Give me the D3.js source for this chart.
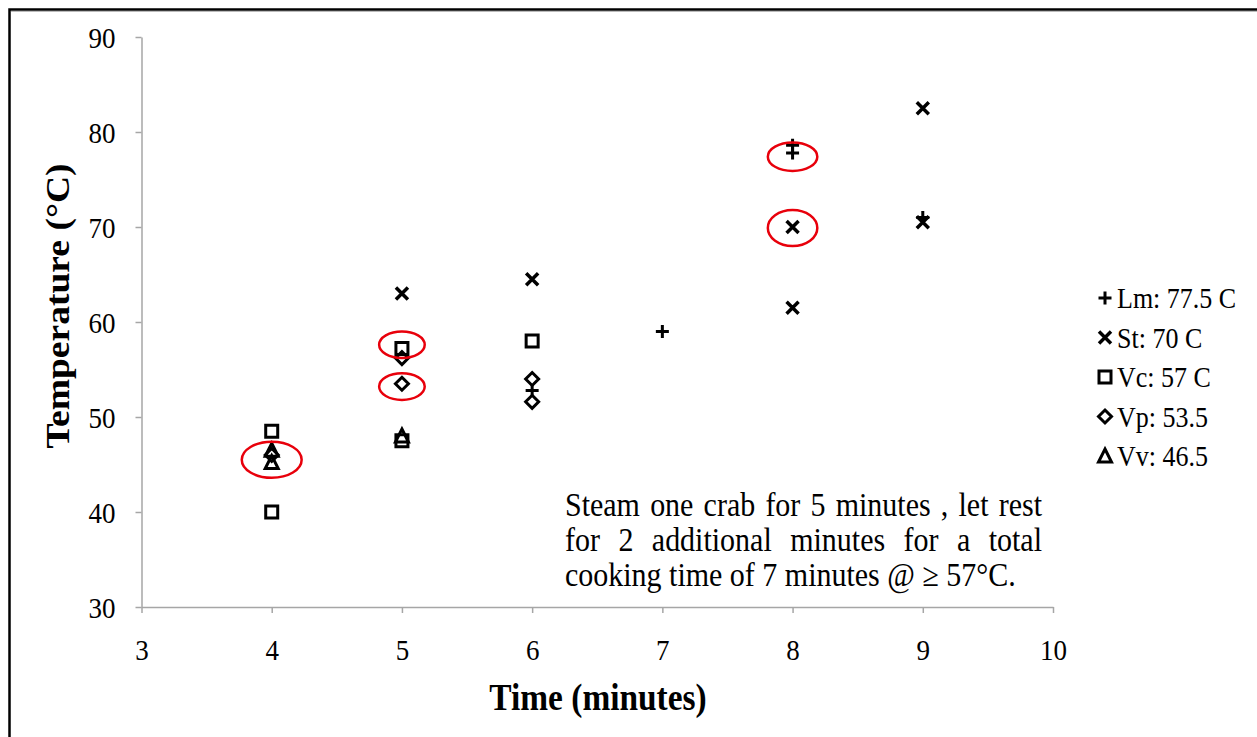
<!DOCTYPE html>
<html><head><meta charset="utf-8">
<script src="https://cdn.jsdelivr.net/npm/d3@7"></script>
<style>body{margin:0;background:#fff}svg{display:block}</style>
</head><body>
<svg id="c" width="1257" height="737"></svg>
<script>
const xTicks = [3,4,5,6,7,8,9,10];
const yTicks = [30,40,50,60,70,80,90];
const seriesNames = ["Lm: 77.5 C","St: 70 C","Vc: 57 C","Vp: 53.5","Vv: 46.5"];
const seriesKeys = ["Lm","St","Vc","Vp","Vv"];
const lmX = [6,7,8,8,9];       const lmY = [52.8,59,77.8,78.6,71];
const stX = [5,6,8,8,9,9];     const stY = [63,64.5,70,61.5,82.5,70.5];
const vcX = [4,4,5,5,6];       const vcY = [48.5,40,57.2,47.5,58];
const vpX = [4,5,5,6,6];       const vpY = [46,56.2,53.5,54,51.6];
const vvX = [4,4,5];           const vvY = [46.5,45.2,48];
const circleX = [4,5,5,8,8];   const circleY = [45.5,57.6,53.2,77.4,69.9];
const circleRx = [0.23,0.175,0.175,0.19,0.19];
const circleRy = [1.9,1.4,1.4,1.5,1.9];
const noteLines = ["Steam one crab for 5 minutes , let rest","for 2 additional minutes for a total","cooking time of 7 minutes @ \u2265 57\u00B0C."];

const FONT = "'Liberation Serif','Times New Roman',serif";
const SY = 1.1;
const svg = d3.select("#c");
// frame
svg.append("rect").attr("x",9.5).attr("y",9.5).attr("width",1400).attr("height",900)
  .attr("fill","none").attr("stroke","#000").attr("stroke-width",2.5);
svg.append("line").attr("x1",11).attr("x2",1257).attr("y1",11.5).attr("y2",11.5).attr("stroke","#bbb").attr("stroke-width",1);

const x = d3.scaleLinear().domain([3,10]).range([141.5,1053]);
const y = d3.scaleLinear().domain([30,90]).range([607,37]);

const gx = svg.append("g").attr("transform",`translate(0,${y(30)})`)
  .call(d3.axisBottom(x).tickValues(xTicks).tickFormat(d3.format("d")).tickSize(6).tickSizeOuter(0));
const gy = svg.append("g").attr("transform",`translate(${x(3)},0)`)
  .call(d3.axisLeft(y).tickValues(yTicks).tickFormat(d3.format("d")).tickSize(6).tickSizeOuter(0));
[gx,gy].forEach(g=>{
  g.select(".domain").attr("stroke","#a6a6a6").attr("stroke-width",1.5);
  g.selectAll(".tick line").attr("stroke","#a6a6a6").attr("stroke-width",1.5);
  g.selectAll("text").attr("font-family",FONT).attr("font-size",27).attr("fill","#000")
    .attr("transform",`scale(1,${SY})`);
});
gx.selectAll(".tick text").attr("dy","0").attr("y",53/SY);
gy.selectAll(".tick text").attr("x",-26).attr("dy","0.34em");

// axis titles
svg.append("text").attr("transform",`translate(69,306) rotate(-90) scale(1.125,1)`).attr("text-anchor","middle")
  .attr("font-family",FONT).attr("font-weight","bold").attr("font-size",33.4).text("Temperature (\u00B0C)");
svg.append("text").attr("transform",`translate(598,710) scale(1,1.125)`).attr("text-anchor","middle")
  .attr("font-family",FONT).attr("font-weight","bold").attr("font-size",33.4).text("Time (minutes)");

// marker paths
function markerPath(k){
  const s=6.5;
  if(k==="Lm") return `M${-s},0H${s}M0,${-s}V${s}`;
  if(k==="St") return `M${-s+0.5},${-s+0.5}L${s-0.5},${s-0.5}M${-s+0.5},${s-0.5}L${s-0.5},${-s+0.5}`;
  if(k==="Vc") return `M-6,-6H6V6H-6Z`;
  if(k==="Vp") return `M0,-6.5L6.5,0L0,6.5L-6.5,0Z`;
  if(k==="Vv") return `M0,-7L6.5,6H-6.5Z`;
}
const data = {
  Lm: lmX.map((d,i)=>[d,lmY[i]]),
  St: stX.map((d,i)=>[d,stY[i]]),
  Vc: vcX.map((d,i)=>[d,vcY[i]]),
  Vp: vpX.map((d,i)=>[d,vpY[i]]),
  Vv: vvX.map((d,i)=>[d,vvY[i]])
};
const order = ["Vc","Vp","Vv","St","Lm"];
order.forEach(k=>{
  svg.append("g").selectAll("path").data(data[k]).join("path")
    .attr("transform",d=>`translate(${x(d[0])},${y(d[1])})`)
    .attr("d",markerPath(k)).attr("fill","none").attr("stroke","#000")
    .attr("stroke-width",k==="St"?3.5:3).attr("stroke-linejoin","miter");
});

// red ellipses
svg.append("g").selectAll("ellipse").data(circleX.map((d,i)=>i)).join("ellipse")
  .attr("cx",i=>x(circleX[i])).attr("cy",i=>y(circleY[i]))
  .attr("rx",i=>x(circleX[i]+circleRx[i])-x(circleX[i]))
  .attr("ry",i=>y(circleY[i])-y(circleY[i]+circleRy[i]))
  .attr("fill","none").attr("stroke","#e8000b").attr("stroke-width",2.5);

// legend
const lg = svg.append("g");
seriesKeys.forEach((k,i)=>{
  const yy = 298 + i*39.5;
  lg.append("path").attr("transform",`translate(1105,${yy})`).attr("d",markerPath(k))
    .attr("fill","none").attr("stroke","#000").attr("stroke-width",k==="St"?3.5:3);
  lg.append("text").attr("transform",`translate(1117,${yy+10}) scale(1,1.12)`).attr("font-family",FONT)
    .attr("font-size",26).text(seriesNames[i]);
});

// note, justified
const noteX0 = 565, noteX1 = 1042;
noteLines.forEach((line,li)=>{
  const yy = 516 + li*35;
  const t = svg.append("text").attr("transform",`translate(0,${yy}) scale(1,${SY})`)
    .attr("font-family",FONT).attr("font-size",30);
  if(li===noteLines.length-1){ t.attr("x",noteX0).text(line); return; }
  const words = line.split(" ");
  const spans = words.map(w=>t.append("tspan").text(w));
  const widths = spans.map(s=>s.node().getComputedTextLength());
  const total = d3.sum(widths);
  const gap = (noteX1-noteX0-total)/(words.length-1);
  let cx = noteX0;
  spans.forEach((s,i)=>{ s.attr("x",cx); cx += widths[i]+gap; });
});
</script>
</body></html>
